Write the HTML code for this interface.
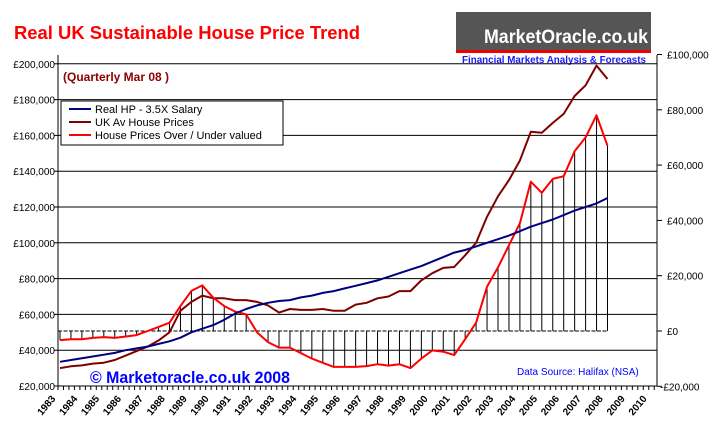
<!DOCTYPE html>
<html><head><meta charset="utf-8"><style>
html,body{margin:0;padding:0;background:#fff;}
svg{display:block;font-family:"Liberation Sans",sans-serif;}
</style></head><body>
<svg id="chart" width="720" height="432" viewBox="0 0 720 432">
<text x="14" y="39" fill="#ff0000" font-size="18" font-weight="bold" textLength="346" lengthAdjust="spacingAndGlyphs">Real UK Sustainable House Price Trend</text>
<g>
<rect x="456" y="12" width="195" height="38" fill="#555"/>
<rect x="456" y="50" width="195" height="3" fill="#e00"/>
<text x="484" y="43" fill="#fff" font-size="19" font-weight="bold" textLength="164" lengthAdjust="spacingAndGlyphs">MarketOracle.co.uk</text>
<text x="462" y="63" fill="#1a1aff" font-size="10" font-weight="bold" textLength="184" lengthAdjust="spacingAndGlyphs">Financial Markets Analysis &amp; Forecasts</text>
</g>
<g id="grid"></g>
<g id="bars"></g>
<g id="lines"></g>
<g id="axes"></g>
<text x="63" y="81" fill="#8b0000" font-size="12" font-weight="bold">(Quarterly Mar 08 )</text>
<g>
<rect x="61" y="101" width="222" height="44" fill="#fff" stroke="#000" stroke-width="1"/>
<line x1="69" y1="109" x2="91" y2="109" stroke="#000080" stroke-width="2"/>
<text x="95" y="113" font-size="11">Real HP - 3.5X Salary</text>
<line x1="69" y1="122" x2="91" y2="122" stroke="#800000" stroke-width="2"/>
<text x="95" y="126" font-size="11">UK Av House Prices</text>
<line x1="69" y1="135" x2="91" y2="135" stroke="#ff0000" stroke-width="2"/>
<text x="95" y="139" font-size="11">House Prices Over / Under valued</text>
</g>
<text x="90" y="383" fill="#0000ff" font-size="17" font-weight="bold" textLength="200" lengthAdjust="spacingAndGlyphs">© Marketoracle.co.uk 2008</text>
<text x="517" y="375" fill="#0000ff" font-size="10">Data Source: Halifax (NSA)</text>
</svg>
<script>
const startYear = 1983;
const stepYears = 0.5;
const realHP = [33.5,34.5,35.5,36.5,37.5,38.5,40,41,42,43.5,45,47,50,52,54,57,60.5,63,65,66.5,67.5,68,69.5,70.5,72,73,74.5,76,77.5,79,81,83,85,87,89.5,92,94.5,96,98,100,102,104,106.5,109,111,113,115.5,118,120,122,125];
const ukAvg = [30,31,31.5,32.5,33,34.5,37,39.5,42,45.5,50,62,67,70.5,69,69,68,68,67,65,61,63,62.5,62.5,63,62,62,65.5,66.5,69,70,73,73,79,83,86,86.5,93,100,114.5,126,135,146,162,161.5,167,172,182,188,199,191.5];
const overUnder = [-3.3,-3,-3,-2.5,-2.2,-2.5,-2,-1.5,0,1.5,3,9,14.5,16.5,12,9,7,6,-0.5,-4,-6,-6,-8,-10,-11.5,-13,-13,-13,-12.7,-12,-12.5,-12,-13.4,-10,-7,-7.5,-8.7,-3,3,16,23,31,39,54,50,55,56,65,70,78,67];
const leftTicks = [20,40,60,80,100,120,140,160,180,200];
const leftLabels = ["£20,000","£40,000","£60,000","£80,000","£100,000","£120,000","£140,000","£160,000","£180,000","£200,000"];
const rightTicks = [-20,0,20,40,60,80,100];
const rightLabels = ["-£20,000","£0","£20,000","£40,000","£60,000","£80,000","£100,000"];
const yearLabels = ["1983","1984","1985","1986","1987","1988","1989","1990","1991","1992","1993","1994","1995","1996","1997","1998","1999","2000","2001","2002","2003","2004","2005","2006","2007","2008","2009","2010"];

const NS = "http://www.w3.org/2000/svg";
const PL = 58, PR = 657, PB = 386;
function xS(t){ return 60 + 21.9*(t - 1983); }
function yL(v){ return 386 - (v - 20)*1.79; }
function yR(v){ return 331 - v*2.765; }
function mk(tag, attrs, parent){ const e=document.createElementNS(NS,tag); for(const k in attrs) e.setAttribute(k, attrs[k]); parent.appendChild(e); return e; }

const grid=document.getElementById('grid'), bars=document.getElementById('bars'), lines=document.getElementById('lines'), axes=document.getElementById('axes');

leftTicks.forEach((v,i)=>{
  const y=yL(v);
  if(v>20){ const g=mk('line',{x1:PL,x2:PR,y1:y,y2:y,stroke:'#000','stroke-width':1},grid);
    
     }
  const t=mk('line',{x1:PL-4,x2:PL,y1:y,y2:y,stroke:'#000'},axes);
  
  
  const l=mk('text',{x:55,y:y+4,'text-anchor':'end','font-size':10},axes);
  l.textContent=leftLabels[i];
  
  
});
rightTicks.forEach((v,i)=>{
  const y=yR(v);
  const t=mk('line',{x1:PR,x2:PR+5,y1:y,y2:y,stroke:'#000'},axes);
  
  
  const l=mk('text',{x:v<0?660:667,y:y+4,'font-size':10},axes);
  l.textContent=rightLabels[i];
  
  
});
let a=mk('line',{x1:PL,x2:PL,y1:55,y2:PB,stroke:'#000'},axes);


a=mk('line',{x1:PR,x2:PR,y1:55,y2:PB,stroke:'#000'},axes);


a=mk('line',{x1:PL,x2:PR,y1:PB,y2:PB,stroke:'#000'},axes);


for(let x=PL; x<=PR; x+=5.47){
  const t=mk('line',{x1:x,x2:x,y1:PB,y2:PB+4,stroke:'#000'},axes);
  
  
}
yearLabels.forEach((s,i)=>{
  const x=xS(startYear+i)-4, y=399;
  const l=mk('text',{x:x,y:y,'text-anchor':'end','font-size':10,'font-weight':'bold',transform:'rotate(-50 '+x+' '+y+')'},axes);
  l.textContent=s;
  
  
});
let z=mk('line',{x1:PL,x2:xS(startYear+(overUnder.length-1)*stepYears),y1:yR(0),y2:yR(0),stroke:'#000','stroke-dasharray':'4,1.5'},bars);


overUnder.forEach((v,i)=>{
  const x=xS(startYear+i*stepYears);
  const b=mk('line',{x1:x,x2:x,y1:yR(0),y2:yR(v),stroke:'#000','stroke-width':1},bars);
  
  
});
function series(arr, yf, color, name){
  const pts=arr.map((v,i)=>xS(startYear+i*stepYears).toFixed(1)+','+yf(v).toFixed(1)).join(' ');
  const p=mk('polyline',{points:pts,fill:'none',stroke:color,'stroke-width':2,'stroke-linejoin':'round'},lines);
  
  
}
series(ukAvg,yL,'#800000','uk-av-house-prices-line');
series(overUnder,yR,'#ff0000','over-under-valued-line');
series(realHP,yL,'#000080','real-hp-line');
</script>
</body></html>
